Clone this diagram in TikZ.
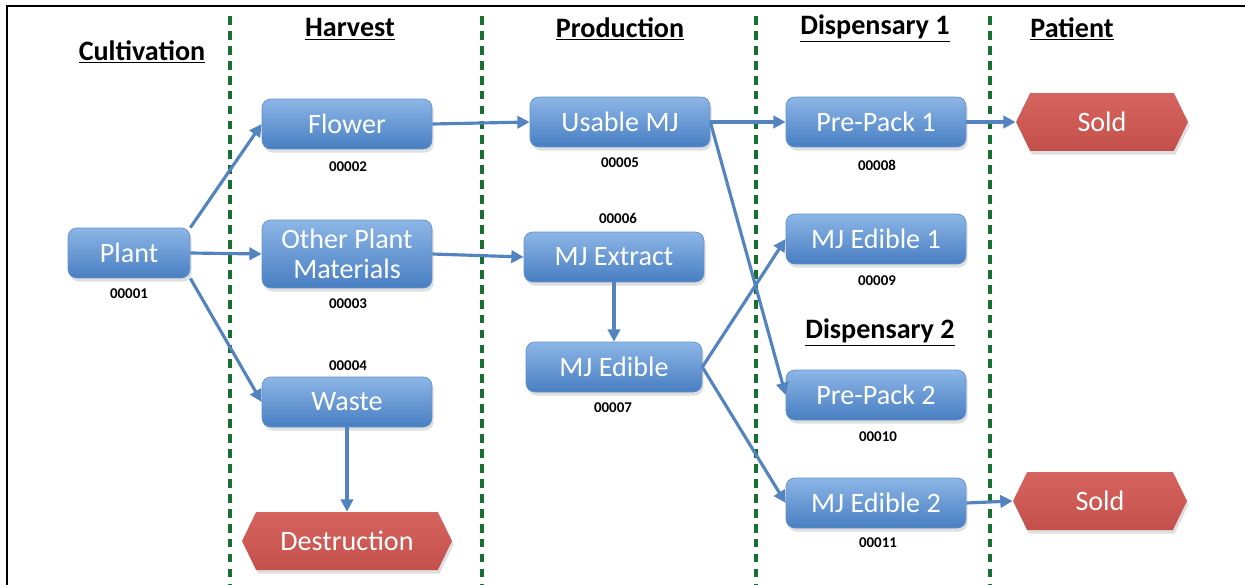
\documentclass[tikz,border=0pt]{standalone}
\usepackage{fontspec}
\setmainfont{Carlito}
\usetikzlibrary{arrows.meta,shapes.symbols,shadows}
\definecolor{boxtop}{RGB}{140,182,230}
\definecolor{boxbot}{RGB}{72,126,194}
\definecolor{boxline}{RGB}{100,146,204}
\definecolor{redtop}{RGB}{214,100,94}
\definecolor{redbot}{RGB}{196,80,75}
\definecolor{arrblue}{RGB}{84,132,192}
\definecolor{sepgreen}{RGB}{24,112,48}
\begin{document}
\begin{tikzpicture}[x=0.02cm,y=-0.02cm]
      \tikzstyle{bnode} = [draw=boxline, thin, rounded corners=5pt, top color=boxtop, bottom color=boxbot, text=white, font=\fontsize{16}{17}\selectfont, minimum height=1cm, inner sep=2pt, align=center, drop shadow={shadow xshift=1pt, shadow yshift=-2pt, opacity=0.25}]
      \tikzstyle{hnode} = [signal, signal to=east and west, signal pointer angle=128, top color=redtop, bottom color=redbot, text=white, font=\fontsize{16}{17}\selectfont, minimum height=1.16cm, inner sep=2pt, drop shadow={shadow xshift=1pt, shadow yshift=-2pt, opacity=0.25}]
      \tikzstyle{head} = [font=\fontsize{16}{17}\selectfont\bfseries]
      \tikzstyle{num} = [font=\fontsize{8.5}{9}\selectfont\bfseries]
      \tikzstyle{arr} = [-{Triangle[length=7pt,width=7pt]}, line width=1.8pt, draw=arrblue]
      \tikzstyle{sep} = [sepgreen, line width=2.2pt, dash pattern=on 5pt off 3.5pt]

      \useasboundingbox (0,0) rectangle (1245,585);
      \draw[black, line width=1.6pt] (7,585) -- (7,6) -- (1245,6);
      \foreach \x in {230,482,756,990}
        \draw[sep] (\x,16) -- (\x,585);

      \node[head] (hcult) at (142,52) {\underline{Cultivation}};
      \node[head] (hharv) at (350,29) {\underline{Harvest}};
      \node[head] (hprod) at (620,29) {\underline{Production}};
      \node[head] (hdisp1) at (875,29) {\underline{Dispensary 1}};
      \node[head] (hpat) at (1072,29) {\underline{Patient}};
      \node[head] (hdisp2) at (880,333) {\underline{Dispensary 2}};

      \node[bnode, minimum width=2.44cm] (plant) at (129,253) {Plant};
      \node[bnode, minimum width=3.4cm] (flower) at (347,124) {Flower};
      \node[bnode, minimum width=3.4cm, minimum height=1.36cm] (other) at (347,254) {Other Plant\\Materials};
      \node[bnode, minimum width=3.4cm] (waste) at (347,402) {Waste};
      \node[hnode, minimum width=4.2cm] (destr) at (347,541) {Destruction};
      \node[bnode, minimum width=3.6cm] (usable) at (620,122) {Usable MJ};
      \node[bnode, minimum width=3.6cm] (extract) at (614,257) {MJ Extract};
      \node[bnode, minimum width=3.52cm] (edible) at (614,367) {MJ Edible};
      \node[bnode, minimum width=3.6cm] (pp1) at (876,122) {Pre-Pack 1};
      \node[bnode, minimum width=3.6cm] (ed1) at (876,239) {MJ Edible 1};
      \node[bnode, minimum width=3.6cm] (pp2) at (876,395) {Pre-Pack 2};
      \node[bnode, minimum width=3.6cm] (ed2) at (876,503) {MJ Edible 2};
      \node[hnode, minimum width=3.44cm] (sold1) at (1102,122) {Sold};
      \node[hnode, minimum width=3.48cm] (sold2) at (1100,501) {Sold};

      \node[num] (n1) at (129,294) {00001};
      \node[num] (n2) at (348,167) {00002};
      \node[num] (n3) at (348,304) {00003};
      \node[num] (n4) at (348,366) {00004};
      \node[num] (n5) at (620,163) {00005};
      \node[num] (n6) at (618,218) {00006};
      \node[num] (n7) at (613,408) {00007};
      \node[num] (n8) at (877,165) {00008};
      \node[num] (n9) at (877,281) {00009};
      \node[num] (n10) at (878,437) {00010};
      \node[num] (n11) at (878,543) {00011};

      \draw[arr] (plant.north east) to (flower.west);
      \draw[arr] (plant.east) to (other.west);
      \draw[arr] (plant.south east) to (waste.west);
      \draw[arr] (flower.east) to (usable.west);
      \draw[arr] (other.east) to (extract.west);
      \draw[arr] (usable.east) to (pp1.west);
      \draw[arr] (usable.east) to (pp2.west);
      \draw[arr] (extract.south) to (edible.north);
      \draw[arr] (edible.east) to (ed1.west);
      \draw[arr] (edible.east) to (ed2.west);
      \draw[arr] (waste.south) to (destr.north);
      \draw[arr] (pp1.east) to (sold1.west);
      \draw[arr] (ed2.east) to (sold2.west);
    \end{tikzpicture}
\end{document}
